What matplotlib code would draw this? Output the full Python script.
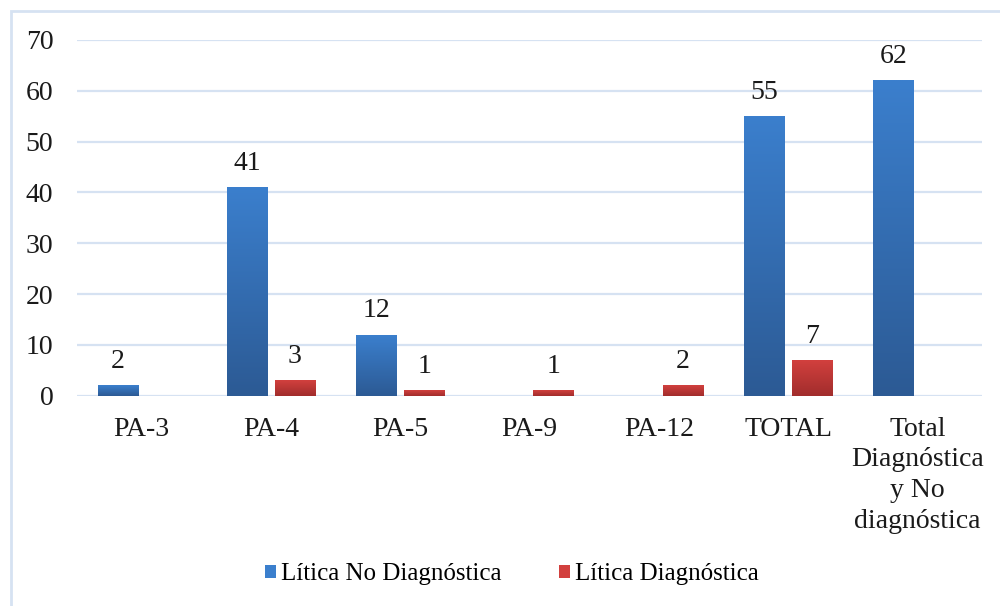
import numpy as np
import matplotlib
matplotlib.use('Agg')
import matplotlib.pyplot as plt
from matplotlib.patches import Rectangle, Patch
from matplotlib.colors import LinearSegmentedColormap

plt.rcParams['font.family'] = ['Liberation Serif', 'DejaVu Serif']

categorias = ['PA-3', 'PA-4', 'PA-5', 'PA-9', 'PA-12', 'TOTAL',
              'Total\nDiagnóstica\ny No\ndiagnóstica']
no_diag = [2, 41, 12, np.nan, np.nan, 55, 62]
diag = [np.nan, 3, 1, 1, 2, 7, np.nan]
series = [('Lítica No Diagnóstica', no_diag, ('#2c5a94', '#3b7fcd'), -0.185),
          ('Lítica Diagnóstica', diag, ('#a12d2c', '#d2403e'), 0.185)]
ANCHO = 0.31
GRID = '#d6e2f2'
FS = 20

fig = plt.figure(figsize=(10, 6.06), dpi=100)
ax = fig.add_axes([0.077, 0.347, 0.905, 0.587])

x = np.arange(len(categorias))
for nombre, vals, (c0, c1), off in series:
    cmap = LinearSegmentedColormap.from_list(nombre, [c0, c1])
    grad = np.linspace(0, 1, 256).reshape(-1, 1)
    for xi, v in zip(x, vals):
        if np.isnan(v):
            continue
        x0 = xi + off - ANCHO / 2
        ax.imshow(grad, cmap=cmap, origin='lower', aspect='auto',
                  extent=(x0, x0 + ANCHO, 0, v), zorder=2)
        ax.text(xi + off, v + 3.4, f'{v:.0f}', ha='center', va='baseline',
                fontsize=FS, color='#1a1a1a')

ax.set_xlim(-0.5, len(categorias) - 0.5)
ax.set_ylim(0, 70)
ax.set_yticks(range(0, 71, 10))
ax.yaxis.grid(True, color=GRID, lw=1.6, zorder=0)
ax.set_axisbelow(True)
for s in ax.spines.values():
    s.set_visible(False)
ax.tick_params(length=0, labelsize=FS, colors='#1a1a1a')
ax.tick_params(axis='y', pad=17)
ax.tick_params(axis='x', pad=15)
ax.set_xticks(x)
ax.set_xticklabels(categorias, va='top', linespacing=1.3)

handles = [Patch(facecolor=c1, label=nombre) for nombre, _, (c0, c1), _ in series]
fig.legend(handles=handles, loc='center', bbox_to_anchor=(0.512, 0.052),
           ncol=2, frameon=False, fontsize=18, handlelength=0.45,
           handleheight=0.45, handletextpad=0.2, columnspacing=2.3)

# marco exterior del gráfico
fig.patches.append(Rectangle((0.0105, -0.05), 1.1, 1.032, transform=fig.transFigure,
                             fill=False, edgecolor=GRID, lw=2))

fig.savefig('out.png', dpi=100)
